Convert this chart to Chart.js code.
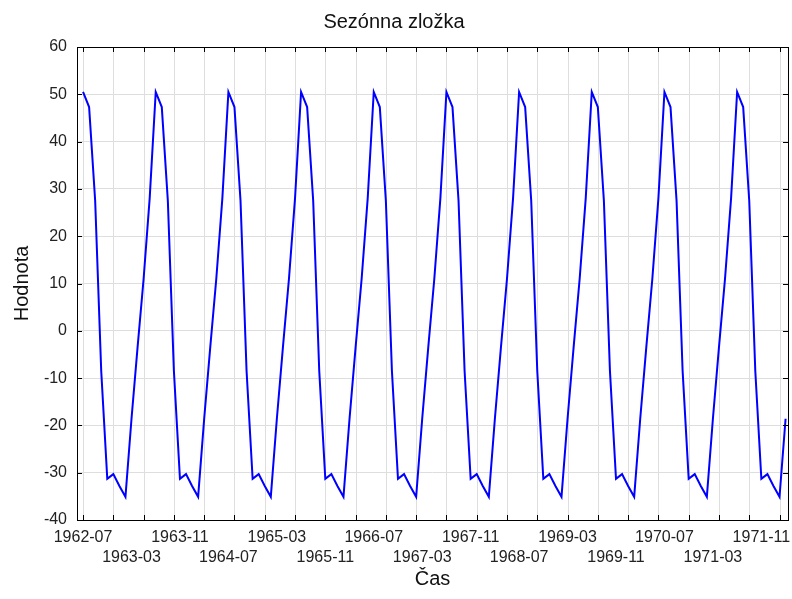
<!DOCTYPE html>
<html lang="sk">
<head>
  <meta charset="UTF-8">
  <title>Sezónna zložka</title>
  <script src="https://cdn.jsdelivr.net/npm/chart.js"></script>
  <style>
    html, body { margin: 0; padding: 0; background: #fff; }
    #wrap { width: 792px; height: 599px; }
  </style>
</head>
<body>
  <div id="wrap"><canvas id="chart"></canvas></div>
  <script>
    // x = month index from 1962-07, one value per month up to 1972-03
    const tickLabels = ['1962-07', '1963-03', '1963-11', '1964-07', '1965-03', '1965-11', '1966-07', '1967-03',
                        '1967-11', '1968-07', '1969-03', '1969-11', '1970-07', '1971-03', '1971-11'];
    const tickStep = 8;   // months between labels
    const gridStep = 5;   // months between vertical grid lines

    const seasonal = [
      50.5, 47.3, 27.5, -8.5, -31.3, -30.3, -32.8, -35.1, -18.6, -3.5, 11.0, 28.0,
      50.5, 47.3, 27.5, -8.5, -31.3, -30.3, -32.8, -35.1, -18.6, -3.5, 11.0, 28.0,
      50.5, 47.3, 27.5, -8.5, -31.3, -30.3, -32.8, -35.1, -18.6, -3.5, 11.0, 28.0,
      50.5, 47.3, 27.5, -8.5, -31.3, -30.3, -32.8, -35.1, -18.6, -3.5, 11.0, 28.0,
      50.5, 47.3, 27.5, -8.5, -31.3, -30.3, -32.8, -35.1, -18.6, -3.5, 11.0, 28.0,
      50.5, 47.3, 27.5, -8.5, -31.3, -30.3, -32.8, -35.1, -18.6, -3.5, 11.0, 28.0,
      50.5, 47.3, 27.5, -8.5, -31.3, -30.3, -32.8, -35.1, -18.6, -3.5, 11.0, 28.0,
      50.5, 47.3, 27.5, -8.5, -31.3, -30.3, -32.8, -35.1, -18.6, -3.5, 11.0, 28.0,
      50.5, 47.3, 27.5, -8.5, -31.3, -30.3, -32.8, -35.1, -18.6, -3.5, 11.0, 28.0,
      50.5, 47.3, 27.5, -8.5, -31.3, -30.3, -32.8, -35.1, -18.6
    ];

    const FONT = 'Liberation Sans, Arial, sans-serif';
    const GRID = '#dedede';

    // vertical grid every 5 months, black frame with inward ticks
    const frame = {
      id: 'frame',
      beforeDatasetsDraw(chart) {
        const { ctx, chartArea: a, scales: { x } } = chart;
        ctx.save();
        ctx.strokeStyle = GRID;
        ctx.lineWidth = 1;
        for (let i = 0; i < seasonal.length; i += gridStep) {
          const px = Math.round(x.getPixelForValue(i)) + 0.5;
          ctx.beginPath();
          ctx.moveTo(px, a.top);
          ctx.lineTo(px, a.bottom);
          ctx.stroke();
        }
        ctx.restore();
      },
      afterDatasetsDraw(chart) {
        const { ctx, chartArea: a, scales: { x, y } } = chart;
        ctx.save();
        ctx.strokeStyle = '#000';
        ctx.lineWidth = 1;
        ctx.strokeRect(Math.round(a.left) + 0.5, Math.round(a.top) + 0.5,
                       Math.round(a.right - a.left), Math.round(a.bottom - a.top));
        ctx.beginPath();
        for (let i = 0; i < seasonal.length; i += gridStep) {
          const px = Math.round(x.getPixelForValue(i)) + 0.5;
          ctx.moveTo(px, a.bottom); ctx.lineTo(px, a.bottom - 5);
          ctx.moveTo(px, a.top); ctx.lineTo(px, a.top + 5);
        }
        y.ticks.forEach(t => {
          const py = Math.round(y.getPixelForValue(t.value)) + 0.5;
          ctx.moveTo(a.left, py); ctx.lineTo(a.left + 5, py);
          ctx.moveTo(a.right, py); ctx.lineTo(a.right - 5, py);
        });
        ctx.stroke();
        ctx.restore();
      }
    };

    new Chart(document.getElementById('chart'), {
      type: 'line',
      data: {
        datasets: [{
          data: seasonal.map((v, i) => ({ x: i, y: v })),
          borderColor: '#0000ff',
          borderWidth: 2,
          pointRadius: 0,
          tension: 0,
          fill: false
        }]
      },
      options: {
        responsive: true,
        maintainAspectRatio: false,
        animation: false,
        layout: { padding: { left: 0, right: 4, top: 0, bottom: 0 } },
        plugins: {
          legend: { display: false },
          tooltip: { enabled: false },
          title: {
            display: true,
            text: 'Sezónna zložka',
            color: '#111',
            font: { family: FONT, size: 20, weight: 'normal' },
            padding: { top: 10, bottom: 13 }
          }
        },
        scales: {
          x: {
            type: 'linear',
            min: -1,
            max: 116.4,
            afterBuildTicks: s => { s.ticks = tickLabels.map((_, i) => ({ value: i * tickStep })); },
            afterFit: s => { s.height = 79; s.paddingLeft = 0; s.paddingRight = 0; },
            grid: { display: false, drawTicks: false },
            border: { display: false },
            ticks: {
              autoSkip: false,
              maxRotation: 0,
              padding: 8,
              color: '#222',
              font: { family: FONT, size: 16, lineHeight: 1.25 },
              callback: (v, i) => i % 2 ? ['', tickLabels[i]] : tickLabels[i]
            },
            title: {
              display: true,
              text: 'Čas',
              color: '#111',
              font: { family: FONT, size: 20 },
              padding: { top: 0, bottom: 8 }
            }
          },
          y: {
            min: -40,
            max: 60,
            afterFit: s => { s.width = 77; },
            grid: { color: GRID, drawTicks: false },
            border: { display: false },
            ticks: {
              stepSize: 10,
              padding: 10,
              color: '#222',
              font: { family: FONT, size: 16 }
            },
            title: {
              display: true,
              text: 'Hodnota',
              color: '#111',
              font: { family: FONT, size: 20 },
              padding: { top: 10, bottom: 0 }
            }
          }
        }
      },
      plugins: [frame]
    });
  </script>
</body>
</html>
